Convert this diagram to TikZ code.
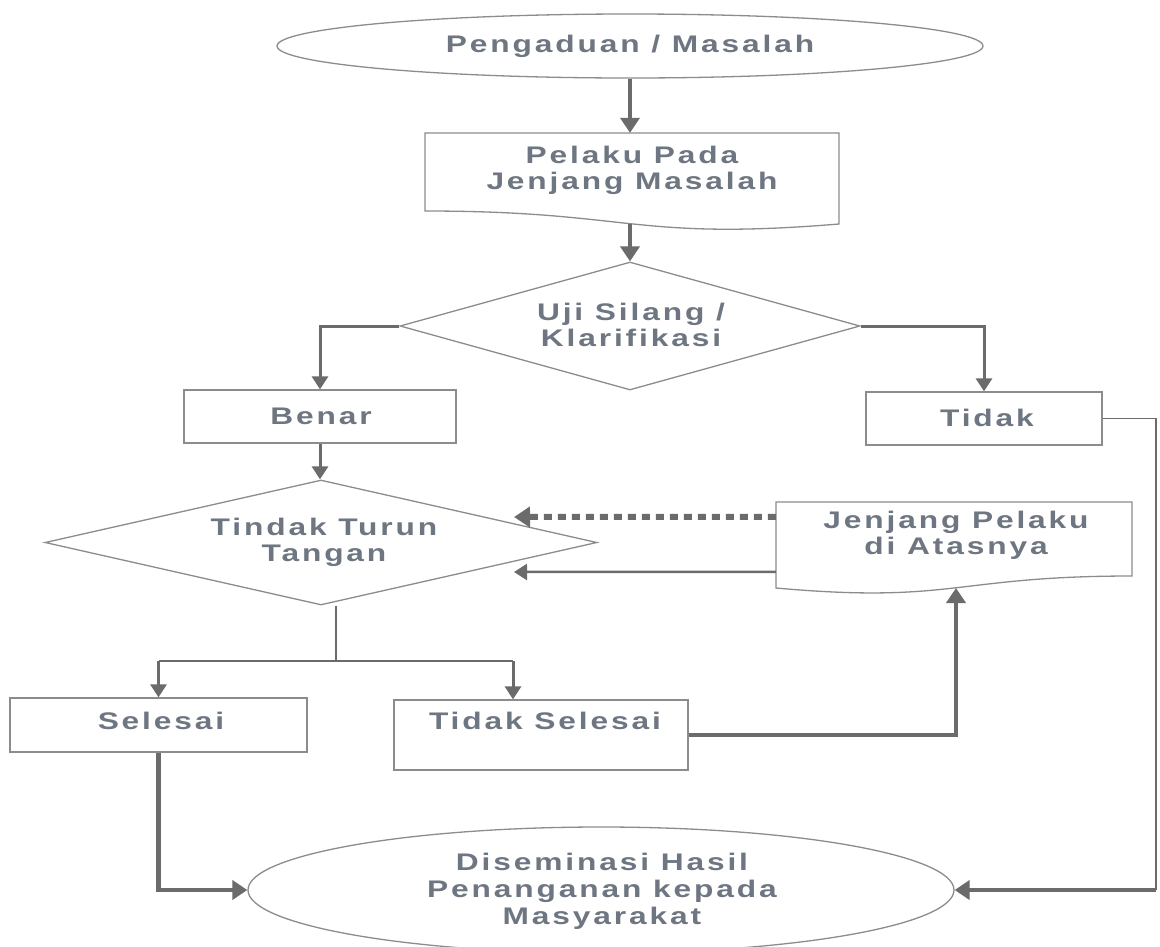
\documentclass[tikz,border=0pt]{standalone}
\usepackage{fontspec}
\newfontfamily\dfont[FakeStretch=1.32,LetterSpace=12]{Liberation Sans}
\usetikzlibrary{shapes.geometric,arrows.meta}
\definecolor{lc}{HTML}{6B6B6B}
\definecolor{oc}{HTML}{8C8C8C}
\definecolor{tc}{HTML}{6E7682}
\begin{document}
\begin{tikzpicture}[x=1pt,y=-1pt,
  tx/.style={font=\dfont\bfseries\fontsize{24}{26}\selectfont,text=tc,align=center,inner sep=0pt},
  shp/.style={draw=oc,line width=1.3pt,inner sep=0pt},
  holder/.style={rectangle,inner sep=0pt,draw=none},
  ta/.style={draw=lc,line width=4.5pt,-{Triangle[width=19pt,length=15pt]}},
  ma/.style={draw=lc,line width=3pt,-{Triangle[width=16pt,length=13pt]}},
  ln/.style={draw=lc,line width=1.6pt},
  dt/.style={draw=lc,line width=6pt,dash pattern=on 8pt off 6pt,-{Triangle[width=20pt,length=16pt]}}]
\fill[white] (0,0) rectangle (1160,946);
\path[use as bounding box] (0,0) rectangle (1160,946);

% shapes
\node[shp,ellipse,minimum width=706pt,minimum height=64pt] (e1) at (630,46) {};
\node[holder,minimum width=414pt,minimum height=97.5pt] (doc1) at (632,181.75) {};
\draw[shp] (425,211) -- (425,133) -- (839,133) -- (839,224)
  .. controls (632,241) and (632,211) .. (425,211) -- cycle;
\node[shp,diamond,minimum width=460pt,minimum height=128pt] (uji) at (630,326) {};
\node[shp,rectangle,minimum width=272pt,minimum height=53pt] (benar) at (320,416.5) {};
\node[shp,rectangle,minimum width=236pt,minimum height=53pt] (tidak) at (984,418.5) {};
\node[shp,diamond,minimum width=552pt,minimum height=125pt] (tindak) at (321,542.5) {};
\node[holder,minimum width=356pt,minimum height=92pt] (jen) at (954,548) {};
\draw[shp] (776,588) -- (776,502) -- (1132,502) -- (1132,576)
  .. controls (954,576) and (954,604) .. (776,588) -- cycle;
\node[shp,rectangle,minimum width=297pt,minimum height=54pt] (sel) at (158.5,725) {};
\node[shp,rectangle,minimum width=294pt,minimum height=70pt] (ts) at (541,735) {};
\node[shp,ellipse,minimum width=706pt,minimum height=126pt] (e2) at (601,890) {};

% texts
\node[tx] (e1t) at (630,46) {Pengaduan / Masalah};
\node[tx] (doc1t) at (632,170) {Pelaku Pada\\Jenjang Masalah};
\node[tx] (ujit) at (631,325) {Uji Silang /\\Klarifikasi};
\node[tx] (benart) at (321,416) {Benar};
\node[tx] (tidakt) at (987,418) {Tidak};
\node[tx] (tindakt) at (324,542) {Tindak Turun\\Tangan};
\node[tx] (jent) at (956,535) {Jenjang Pelaku\\di Atasnya};
\node[tx] (selt) at (161,721) {Selesai};
\node[tx] (tst) at (545,721) {Tidak Selesai};
\node[tx,font=\dfont\bfseries\fontsize{24}{27}\selectfont] (e2t) at (602,891) {Diseminasi Hasil\\Penanganan kepada\\Masyarakat};

% coordinates
\coordinate (d1b) at (630,224);
\coordinate (jb) at (956,588);
\coordinate (sp) at (336,661);
\coordinate (tsin) at (513,661);
\coordinate (rc) at (1156,890);
\coordinate (tipD) at (514,517);
\coordinate (tipS) at (514,572);

% connectors
\draw[ta] (e1.south) -- (e1.south |- doc1.north);
\draw[ta] (d1b) -- (uji.north);
\draw[ma] (uji.west) -| (benar.north);
\draw[ma] (uji.east) -| (tidak.north);
\draw[ma] (benar.south) -- (benar.south |- tindak.north);
\draw[ln] (sp |- tindak.south) -- (sp);
\draw[ln,line width=2pt] (sel.north |- sp) -- (tsin);
\draw[ma] (sel.north |- sp) -- (sel.north);
\draw[ma] (tsin) -- (tsin |- ts.north);
\draw[ta] (sel.south) |- (e2.west);
\draw[ta,line width=4pt] (ts.east) -| (jb);
\draw[ma,line width=2.5pt] ([yshift=-70pt]jen.north west) -- (tipS);
\draw[dt] ([yshift=-15pt]jen.north west) -- (tipD);
\draw[ln] (tidak.east) -| (rc);
\draw[ta,line width=4pt] (rc) -- (e2.east);
\end{tikzpicture}
\end{document}
